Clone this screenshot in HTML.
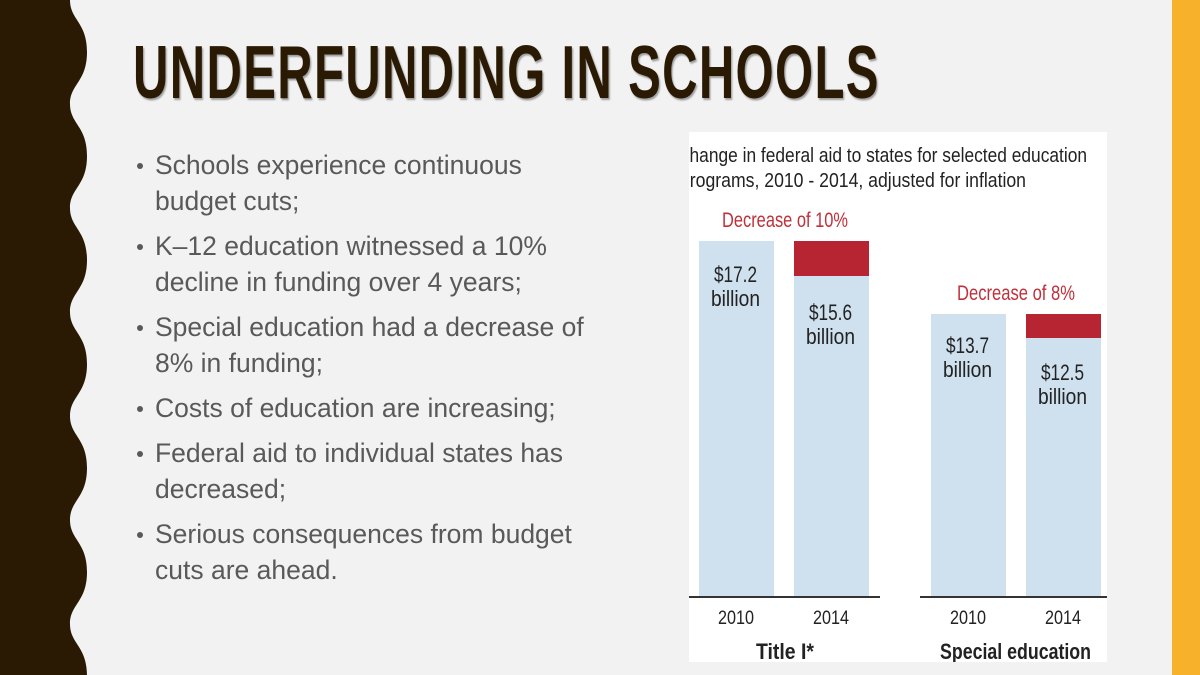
<!DOCTYPE html>
<html><head><meta charset="utf-8"><style>
html,body{margin:0;padding:0;}
body{width:1200px;height:675px;background:#f2f2f2;position:relative;overflow:hidden;font-family:"Liberation Sans",sans-serif;}
.title{position:absolute;left:133px;top:30px;font-family:"Liberation Sans",sans-serif;font-weight:bold;font-size:75px;letter-spacing:2px;color:#2a1a04;text-shadow:2px 2px 2px rgba(0,0,0,0.35);white-space:nowrap;line-height:84px;transform:scaleX(0.654);transform-origin:0 0;}
ul{position:absolute;left:133px;top:147px;margin:0;padding:0;list-style:none;width:467px;}
li{position:relative;padding-left:22px;font-size:26.5px;line-height:36px;color:#595959;margin-bottom:9px;}
li:before{content:"";position:absolute;left:4px;top:16px;width:6px;height:6px;border-radius:50%;background:#595959;}
</style></head><body>
<svg width="1200" height="675" style="position:absolute;left:0;top:0">
<path d="M0,0 L70,0 C70,20 87,22 87,52 C87,82 70,84 70,104 C70,124 87,126 87,156 C87,186 70,188 70,208 C70,228 87,230 87,260 C87,290 70,292 70,312 C70,332 87,334 87,364 C87,394 70,396 70,416 C70,436 87,438 87,468 C87,498 70,500 70,520 C70,540 87,542 87,572 C87,602 70,604 70,624 C70,644 87,646 87,676 L0,676 Z" fill="#2a1a04"/>
<rect x="1172" y="0" width="28" height="675" fill="#f8b12a"/>
<defs><clipPath id="c"><rect x="689" y="132" width="418" height="530"/></clipPath></defs>
<g clip-path="url(#c)" font-family="Liberation Sans, sans-serif">
<rect x="689" y="132" width="418" height="530" fill="#fff"/>
<text x="677" y="162" font-size="20" fill="#222" textLength="410" lengthAdjust="spacingAndGlyphs">Change in federal aid to states for selected education</text>
<text x="680" y="187" font-size="20" fill="#222" textLength="346" lengthAdjust="spacingAndGlyphs">programs, 2010 - 2014, adjusted for inflation</text>
<text x="722" y="227" font-size="21" fill="#c0303a" textLength="126" lengthAdjust="spacingAndGlyphs">Decrease of 10%</text>
<text x="957" y="300" font-size="21" fill="#c0303a" textLength="118" lengthAdjust="spacingAndGlyphs">Decrease of 8%</text>
<rect x="699" y="241" width="75" height="356" fill="#cfe0ee"/>
<rect x="794" y="241" width="75" height="35" fill="#b82532"/>
<rect x="794" y="276" width="75" height="321" fill="#cfe0ee"/>
<rect x="931" y="314" width="75" height="283" fill="#cfe0ee"/>
<rect x="1026" y="314" width="75" height="24" fill="#b82532"/>
<rect x="1026" y="338" width="75" height="259" fill="#cfe0ee"/>
<g font-size="22" fill="#222">
<text x="714" y="282" textLength="43" lengthAdjust="spacingAndGlyphs">$17.2</text><text x="711" y="306" textLength="49" lengthAdjust="spacingAndGlyphs">billion</text>
<text x="809" y="320" textLength="43" lengthAdjust="spacingAndGlyphs">$15.6</text><text x="806" y="344" textLength="49" lengthAdjust="spacingAndGlyphs">billion</text>
<text x="946" y="353" textLength="43" lengthAdjust="spacingAndGlyphs">$13.7</text><text x="943" y="377" textLength="49" lengthAdjust="spacingAndGlyphs">billion</text>
<text x="1041" y="380" textLength="43" lengthAdjust="spacingAndGlyphs">$12.5</text><text x="1038" y="404" textLength="49" lengthAdjust="spacingAndGlyphs">billion</text>
<text x="718" y="624" font-size="19" textLength="36" lengthAdjust="spacingAndGlyphs">2010</text><text x="813" y="624" font-size="19" textLength="36" lengthAdjust="spacingAndGlyphs">2014</text>
<text x="950" y="624" font-size="19" textLength="36" lengthAdjust="spacingAndGlyphs">2010</text><text x="1045" y="624" font-size="19" textLength="36" lengthAdjust="spacingAndGlyphs">2014</text>
<text x="756" y="659" font-weight="bold" textLength="58" lengthAdjust="spacingAndGlyphs">Title I*</text>
<text x="940" y="659" font-weight="bold" textLength="151" lengthAdjust="spacingAndGlyphs">Special education</text>
</g>
<line x1="689" y1="597" x2="880" y2="597" stroke="#333" stroke-width="2"/>
<line x1="920" y1="597" x2="1107" y2="597" stroke="#333" stroke-width="2"/>
</g>
</svg>
<div class="title">UNDERFUNDING IN SCHOOLS</div>
<ul>
<li>Schools experience continuous budget cuts;</li>
<li>K–12 education witnessed a 10% decline in funding over 4 years;</li>
<li>Special education had a decrease of 8% in funding;</li>
<li>Costs of education are increasing;</li>
<li>Federal aid to individual states has decreased;</li>
<li>Serious consequences from budget cuts are ahead.</li>
</ul>
</body></html>
